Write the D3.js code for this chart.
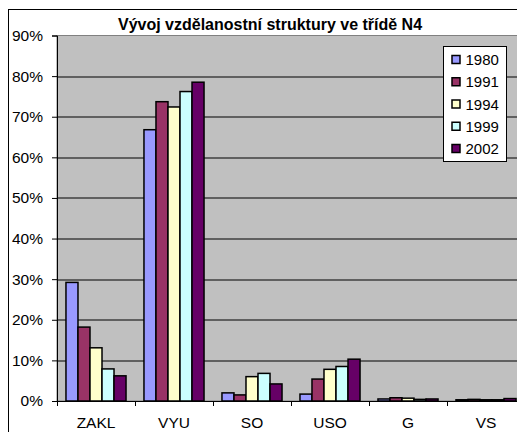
<!DOCTYPE html>
<html>
<head>
<meta charset="utf-8">
<script src="https://cdnjs.cloudflare.com/ajax/libs/d3/7.8.5/d3.min.js"></script>
<style>
  body { margin: 0; background: #fff; }
  svg { display: block; font-family: Arial, "Liberation Sans", sans-serif; }
</style>
</head>
<body>
<div id="chart"></div>
<script>
// chart data
const title = 'Vývoj vzdělanostní struktury ve třídě N4';
const categories = ['ZAKL', 'VYU', 'SO', 'USO', 'G', 'VS'];
const years = ['1980', '1991', '1994', '1999', '2002'];
const colours = ['#9999FF', '#993366', '#FFFFCC', '#CCFFFF', '#660066'];
const v1980 = [29.2, 66.8, 2.0, 1.7, 0.5, 0.3];
const v1991 = [18.2, 73.7, 1.5, 5.4, 0.8, 0.4];
const v1994 = [13.1, 72.4, 6.0, 7.8, 0.7, 0.3];
const v1999 = [7.9, 76.2, 6.8, 8.5, 0.4, 0.3];
const v2002 = [6.2, 78.5, 4.2, 10.3, 0.5, 0.6];
const yTicks = [0, 10, 20, 30, 40, 50, 60, 70, 80, 90];

const series = [v1980, v1991, v1994, v1999, v2002];

const width = 517, height = 432;
const margin = {top: 35.5, left: 57, bottom: 31, right: -8};
const plotW = width - margin.left - margin.right;
const plotH = height - margin.top - margin.bottom;

const svg = d3.select('#chart').append('svg')
    .attr('width', width)
    .attr('height', height);

// outer chart frame
svg.append('rect')
    .attr('x', 8.5).attr('y', 9.5)
    .attr('width', width).attr('height', height)
    .attr('fill', '#fff')
    .attr('stroke', '#000')
    .attr('stroke-width', 1);

const g = svg.append('g')
    .attr('transform', 'translate(' + margin.left + ',' + margin.top + ')');

const x = d3.scaleBand()
    .domain(categories)
    .range([0, plotW])
    .paddingInner(0)
    .paddingOuter(0);

const xYear = d3.scaleBand()
    .domain(years)
    .range([x.bandwidth() * 0.115, x.bandwidth() * 0.885]);

const y = d3.scaleLinear()
    .domain([0, 90])
    .range([plotH, 0]);

// plot background
g.append('rect')
    .attr('x', 0).attr('y', 0)
    .attr('width', plotW).attr('height', plotH)
    .attr('fill', '#C0C0C0')
    .attr('stroke', '#808080')
    .attr('stroke-width', 1);

// gridlines
g.append('g')
  .selectAll('line')
  .data(yTicks.filter(t => t > 0 && t < 90))
  .enter().append('line')
    .attr('x1', 0).attr('x2', plotW)
    .attr('y1', d => Math.round(y(d)) + 0.5)
    .attr('y2', d => Math.round(y(d)) + 0.5)
    .attr('stroke', '#000')
    .attr('stroke-width', 1);

// bars
years.forEach((yr, i) => {
  g.append('g')
    .selectAll('rect')
    .data(series[i])
    .enter().append('rect')
      .attr('x', (d, j) => x(categories[j]) + xYear(yr))
      .attr('y', d => y(d))
      .attr('width', xYear.bandwidth())
      .attr('height', d => plotH - y(d))
      .attr('fill', colours[i])
      .attr('stroke', '#000')
      .attr('stroke-width', 1.5);
});

// y axis
const yAxis = g.append('g')
    .call(d3.axisLeft(y)
      .tickValues(yTicks)
      .tickSize(5)
      .tickPadding(9)
      .tickFormat(d => d + '%'));
yAxis.select('.domain').attr('stroke', '#000');
yAxis.selectAll('text')
    .attr('font-size', 15.5)
    .attr('font-family', 'Arial, "Liberation Sans", sans-serif')
    .attr('fill', '#000');

// x axis
const xAxis = g.append('g')
    .attr('transform', 'translate(0,' + plotH + ')')
    .call(d3.axisBottom(x).tickSize(0).tickPadding(16));
xAxis.select('.domain').attr('stroke', '#000');
xAxis.selectAll('text')
    .attr('font-size', 15.5)
    .attr('font-family', 'Arial, "Liberation Sans", sans-serif')
    .attr('fill', '#000');
// tick marks between categories
xAxis.append('g')
  .selectAll('line')
  .data(categories)
  .enter().append('line')
    .attr('x1', d => Math.round(x(d)) + 0.5)
    .attr('x2', d => Math.round(x(d)) + 0.5)
    .attr('y1', 0).attr('y2', 5)
    .attr('stroke', '#000');

// title
svg.append('text')
    .attr('x', 270)
    .attr('y', 30)
    .attr('text-anchor', 'middle')
    .attr('font-size', 16)
    .attr('font-weight', 'bold')
    .text(title);

// legend
const legend = svg.append('g')
    .attr('transform', 'translate(443.5,46.5)');
legend.append('rect')
    .attr('width', 63)
    .attr('height', 115)
    .attr('fill', '#fff')
    .attr('stroke', '#000');
years.forEach((yr, i) => {
  const cy = 13 + i * 22.25;
  legend.append('rect')
      .attr('x', 8.5).attr('y', cy - 4)
      .attr('width', 8).attr('height', 8)
      .attr('fill', colours[i])
      .attr('stroke', '#000')
      .attr('stroke-width', 1.5);
  legend.append('text')
      .attr('x', 22)
      .attr('y', cy + 5.5)
      .attr('font-size', 15)
      .text(yr);
});
</script>
</body>
</html>
